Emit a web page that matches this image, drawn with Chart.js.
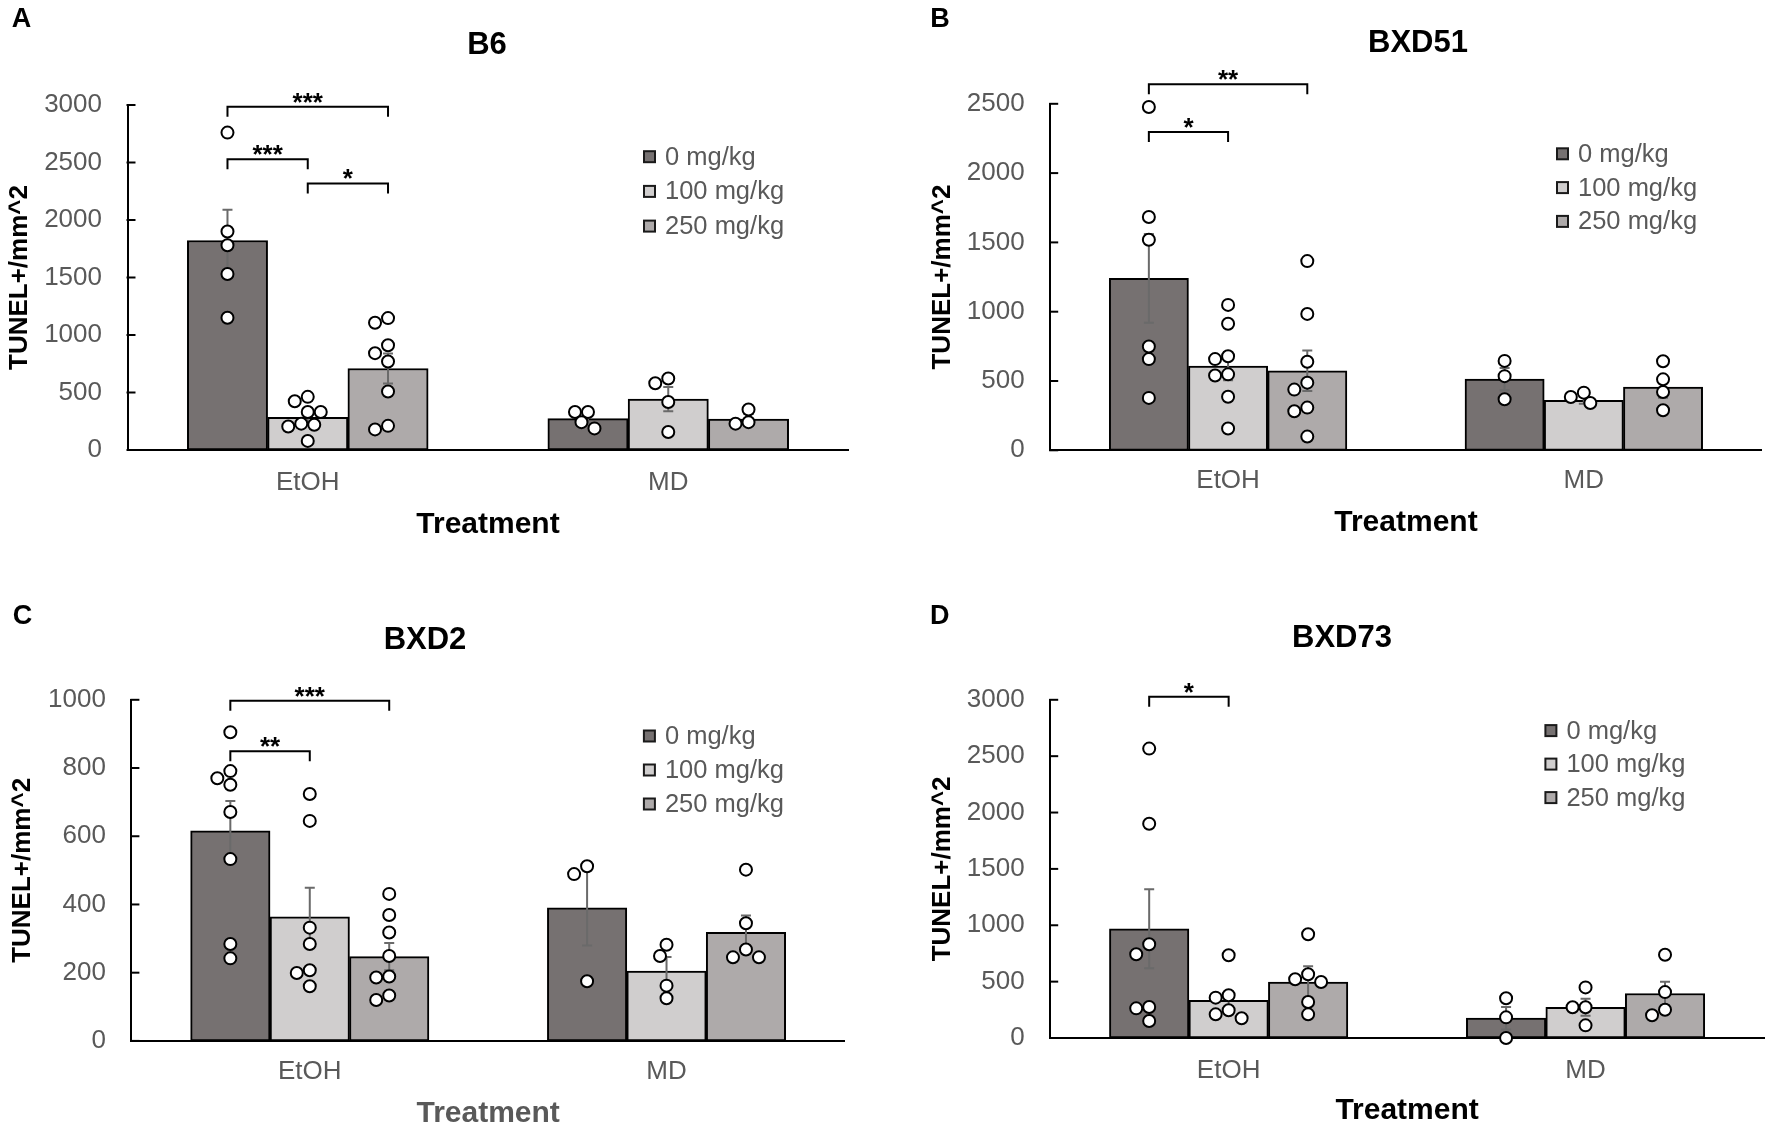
<!DOCTYPE html>
<html>
<head>
<meta charset="utf-8">
<script src="https://cdn.jsdelivr.net/npm/chart.js@4.4.1/dist/chart.umd.min.js"></script>
<style>
html, body { margin: 0; padding: 0; background: #ffffff; }
#wrap { position: relative; width: 1772px; height: 1133px; background: #ffffff; overflow: hidden; }
#wrap canvas { position: absolute; }
</style>
</head>
<body>
<div id="wrap">
  <canvas id="cA" width="886" height="566" style="left:0px;top:0px;width:886px;height:566px"></canvas>
  <canvas id="cB" width="886" height="566" style="left:886px;top:0px;width:886px;height:566px"></canvas>
  <canvas id="cC" width="886" height="567" style="left:0px;top:566px;width:886px;height:567px"></canvas>
  <canvas id="cD" width="886" height="567" style="left:886px;top:566px;width:886px;height:567px"></canvas>
</div>
<script>
// ---------------- DATA ----------------
const groups = ['EtOH', 'MD'];
const doseLabels = ['0 mg/kg', '100 mg/kg', '250 mg/kg'];
const panelTitles = ['B6', 'BXD51', 'BXD2', 'BXD73'];
const panelLetters = ['A', 'B', 'C', 'D'];
const yMaxes = [3000, 2500, 1000, 3000];
const ySteps = [500, 500, 200, 500];
const yAxisTitle = 'TUNEL+/mm^2';
const xAxisTitle = 'Treatment';

// rows = dose (0, 100, 250 mg/kg), columns = [EtOH, MD]
const meansB6 = [[1822, 273], [284, 442], [709, 268]];
const semB6 = [[267, 40], [50, 105], [130, 45]];
const pointsB6 = [
  [[2760, 1900, 1780, 1530, 1150], [330, 330, 242, 188]],
  [[462, 424, 330, 330, 229, 220, 204, 79], [622, 581, 418, 157]],
  [[1147, 1106, 911, 842, 770, 509, 210, 179], [352, 242, 229]]
];
const bracketsB6 = [[0, 2, 2984, '***'], [0, 1, 2529, '***'], [1, 2, 2318, '*']];

const meansBXD51 = [[1240, 514], [608, 360], [574, 457]];
const semBXD51 = [[320, 80], [102, 25], [146, 78]];
const pointsBXD51 = [
  [[2477, 1683, 1519, 749, 658, 378], [645, 535, 368]],
  [[1049, 913, 679, 658, 548, 540, 386, 157], [416, 385, 341]],
  [[1365, 984, 639, 488, 438, 308, 282, 99], [642, 512, 421, 289]]
];
const bracketsBXD51 = [[0, 2, 2641, '**'], [0, 1, 2296, '*']];

const meansBXD2 = [[616, 390], [364, 205], [247, 318]];
const semBXD2 = [[87, 110], [85, 41], [40, 50]];
const pointsBXD2 = [
  [[905, 791, 770, 751, 671, 533, 284, 242], [512, 489, 175]],
  [[724, 645, 332, 284, 207, 199, 160], [282, 249, 162, 125]],
  [[431, 369, 318, 249, 189, 186, 133, 120], [502, 345, 268, 245, 245]]
];
const bracketsBXD2 = [[0, 2, 997, '***'], [0, 1, 849, '**']];

const meansBXD73 = [[969, 176], [334, 273], [497, 395]];
const semBXD73 = [[350, 100], [75, 75], [140, 105]];
const pointsBXD73 = [
  [[2567, 1900, 831, 743, 275, 263, 151], [353, 183, 0]],
  [[734, 379, 358, 246, 210, 175], [449, 273, 273, 112]],
  [[920, 565, 521, 497, 319, 210], [738, 407, 250, 202]]
];
const bracketsBXD73 = [[0, 1, 3026, '*']];

const panelMeans = [meansB6, meansBXD51, meansBXD2, meansBXD73];
const panelSems = [semB6, semBXD51, semBXD2, semBXD73];
const panelPoints = [pointsB6, pointsBXD51, pointsBXD2, pointsBXD73];
const panelBrackets = [bracketsB6, bracketsBXD51, bracketsBXD2, bracketsBXD73];

// ---------------- STYLE / LAYOUT ----------------
const FONT = '"Liberation Sans", Arial, Helvetica, sans-serif';
const barColors = ['#767171', '#d0cece', '#aeaaaa'];
const GRAY_TEXT = '#595959';
const CAT_PCT = 0.668;                       // share of a category taken by the 3 bars
const BAR_FRAC = CAT_PCT / doseLabels.length; // one bar, in category units

const panelLayout = [
  { id: 'cA', W: 886, H: 566, left: 127.5, right: 848.5, top: 105, bottom: 450,
    yTitlePad: 4.4, xTickPad: 17.2, xTitlePad: 23.6, xTitleColor: '#000000',
    titleX: 487, titleY: 45, letterX: 21.5, letterY: 20,
    legDx: 204.5, legDy: 51.7, legGap: 34.7 },
  { id: 'cB', W: 886, H: 566, left: 164.2, right: 875.7, top: 103.8, bottom: 450.3,
    yTitlePad: 41, xTickPad: 15.1, xTitlePad: 25.4, xTitleColor: '#000000',
    titleX: 532, titleY: 43.6, letterX: 54, letterY: 20,
    legDx: 204.7, legDy: 50, legGap: 33.8 },
  { id: 'cC', W: 886, H: 567, left: 131.4, right: 844.9, top: 133.8, bottom: 474.9,
    yTitlePad: 7, xTickPad: 15.8, xTitlePad: 1, xTitleColor: GRAY_TEXT,
    titleX: 425, titleY: 74.1, letterX: 22.6, letterY: 50.6,
    legDx: 201, legDy: 36.2, legGap: 34 },
  { id: 'cD', W: 886, H: 567, left: 164.2, right: 879.4, top: 133.8, bottom: 472,
    yTitlePad: 41, xTickPad: 16.9, xTitlePad: 4.7, xTitleColor: '#000000',
    titleX: 456, titleY: 72.3, letterX: 53.8, letterY: 50.6,
    legDx: 218.6, legDy: 30.8, legGap: 33.5 }
];

// simple deterministic beeswarm: sideways offsets (px) so circles do not pile up
function swarmOffsets(values, pxPerUnit) {
  const placed = [];
  const out = [];
  const step = 6.5, minD = 12;
  values.forEach(v => {
    const py = v * pxPerUnit;
    let ox = 0;
    for (let k = 0; k < 11; k++) {
      const cand = k === 0 ? 0 : (k % 2 ? -1 : 1) * Math.ceil(k / 2) * step;
      if (placed.every(p => Math.hypot(cand - p[0], py - p[1]) >= minD)) { ox = cand; break; }
    }
    placed.push([ox, py]);
    out.push(ox);
  });
  return out;
}

const decorPlugin = {
  id: 'decor',
  afterDatasetDraw(chart, args) {
    const ds = chart.data.datasets[args.index];
    if (ds.type !== 'bar') return;
    const ctx = chart.ctx, y = chart.scales.y;
    ctx.save();
    ctx.strokeStyle = '#6a6a6a';
    ctx.lineWidth = 2;
    args.meta.data.forEach((el, i) => {
      const m = ds.data[i].y, e = ds.sem[i];
      const yt = y.getPixelForValue(m + e), yb = y.getPixelForValue(Math.max(m - e, 0));
      ctx.beginPath();
      ctx.moveTo(el.x, yt); ctx.lineTo(el.x, yb);
      ctx.moveTo(el.x - 5, yt); ctx.lineTo(el.x + 5, yt);
      ctx.moveTo(el.x - 5, yb); ctx.lineTo(el.x + 5, yb);
      ctx.stroke();
    });
    ctx.restore();
  },
  afterDraw(chart, args, opts) {
    const ctx = chart.ctx, y = chart.scales.y, ca = chart.chartArea;
    const L = opts.layout;
    ctx.save();
    // inside tick marks on the y axis
    ctx.strokeStyle = '#000000';
    ctx.lineWidth = 2;
    y.ticks.forEach(t => {
      const py = y.getPixelForValue(t.value);
      ctx.beginPath(); ctx.moveTo(ca.left - 1, py); ctx.lineTo(ca.left + 8, py); ctx.stroke();
    });
    // significance brackets (EtOH group)
    opts.brackets.forEach(b => {
      const xa = chart.getDatasetMeta(b[0]).data[0].x;
      const xb = chart.getDatasetMeta(b[1]).data[0].x;
      const yl = y.getPixelForValue(b[2]);
      ctx.strokeStyle = '#000000';
      ctx.lineWidth = 2;
      ctx.beginPath();
      ctx.moveTo(xa, yl + 10); ctx.lineTo(xa, yl); ctx.lineTo(xb, yl); ctx.lineTo(xb, yl + 10);
      ctx.stroke();
      ctx.fillStyle = '#000000';
      ctx.font = 'bold 26px ' + FONT;
      ctx.textAlign = 'center';
      ctx.textBaseline = 'alphabetic';
      ctx.fillText(b[3], (xa + xb) / 2, yl + 4);
    });
    // legend
    doseLabels.forEach((lab, i) => {
      const bx = ca.right - L.legDx;
      const cy = ca.top + L.legDy + i * L.legGap;
      ctx.fillStyle = barColors[i];
      ctx.fillRect(bx, cy - 5.5, 11, 11);
      ctx.strokeStyle = '#1a1a1a';
      ctx.lineWidth = 2;
      ctx.strokeRect(bx, cy - 5.5, 11, 11);
      ctx.fillStyle = GRAY_TEXT;
      ctx.font = '25.5px ' + FONT;
      ctx.textAlign = 'left';
      ctx.textBaseline = 'middle';
      ctx.fillText(lab, bx + 21, cy + 1);
    });
    // title
    ctx.fillStyle = '#000000';
    ctx.font = 'bold 31px ' + FONT;
    ctx.textAlign = 'center';
    ctx.textBaseline = 'middle';
    ctx.fillText(opts.title, L.titleX, L.titleY);
    // panel letter
    ctx.font = 'bold 27px ' + FONT;
    ctx.fillText(opts.letter, L.letterX, L.letterY);
    ctx.restore();
  }
};

Chart.defaults.font.family = FONT;

panelLayout.forEach((L, p) => {
  const means = panelMeans[p], sems = panelSems[p], pts = panelPoints[p];
  const pxPerUnit = (L.bottom - L.top) / yMaxes[p];
  const catPx = (L.right - L.left) / groups.length;

  // bars sit at group index + dose offset on a linear x scale (-0.5 .. 1.5)
  const barSets = doseLabels.map((lab, d) => ({
    type: 'bar',
    label: lab,
    data: groups.map((g, gi) => ({ x: gi + (d - 1) * BAR_FRAC, y: means[d][gi] })),
    sem: sems[d].slice(),
    backgroundColor: barColors[d],
    borderColor: '#000000',
    borderWidth: 2,
    borderSkipped: false,
    grouped: false,
    categoryPercentage: 1.0,
    barPercentage: 1.0,
    order: 2
  }));

  const scatterData = [];
  for (let d = 0; d < doseLabels.length; d++) {
    for (let g = 0; g < groups.length; g++) {
      const vals = pts[d][g];
      const offs = swarmOffsets(vals, pxPerUnit);
      vals.forEach((v, k) => {
        scatterData.push({ x: g + (d - 1) * BAR_FRAC + offs[k] / catPx, y: v });
      });
    }
  }

  const scatterSet = {
    type: 'scatter',
    label: 'points',
    data: scatterData,
    pointRadius: 6,
    pointBorderWidth: 2,
    pointBorderColor: '#000000',
    pointBackgroundColor: '#ffffff',
    showLine: false,
    clip: false,
    order: 1
  };

  new Chart(document.getElementById(L.id), {
    type: 'bar',
    data: { datasets: [...barSets, scatterSet] },
    plugins: [decorPlugin],
    options: {
      responsive: false,
      animation: false,
      events: [],
      layout: { padding: { left: 0, top: L.top, right: L.W - L.right, bottom: 0 } },
      plugins: {
        legend: { display: false },
        tooltip: { enabled: false },
        title: { display: false },
        decor: { layout: L, brackets: panelBrackets[p], title: panelTitles[p], letter: panelLetters[p] }
      },
      scales: {
        x: {
          type: 'linear',
          offset: false,
          min: -0.5,
          max: groups.length - 0.5,
          grid: { display: false, drawTicks: false },
          border: { display: true, color: '#000000', width: 2 },
          afterBuildTicks: s => { s.ticks = groups.map((g, i) => ({ value: i })); },
          ticks: { color: GRAY_TEXT, font: { size: 26 }, padding: L.xTickPad, maxRotation: 0,
                   autoSkip: false, callback: v => groups[Math.round(v)] },
          title: { display: true, text: xAxisTitle, color: L.xTitleColor,
                   font: { size: 30, weight: 'bold' }, padding: { top: 0, bottom: L.xTitlePad } },
          afterFit: s => { s.height = L.H - L.bottom; }
        },
        y: {
          type: 'linear',
          min: 0,
          max: yMaxes[p],
          grid: { display: false, drawTicks: false },
          border: { display: true, color: '#000000', width: 2 },
          ticks: { stepSize: ySteps[p], color: GRAY_TEXT, font: { size: 26 }, padding: 25.5,
                   callback: v => String(v) },
          title: { display: true, text: yAxisTitle, color: '#000000',
                   font: { size: 26, weight: 'bold' }, padding: { top: L.yTitlePad, bottom: 0 } },
          afterFit: s => { s.width = L.left; }
        }
      }
    }
  });
});
</script>
</body>
</html>
